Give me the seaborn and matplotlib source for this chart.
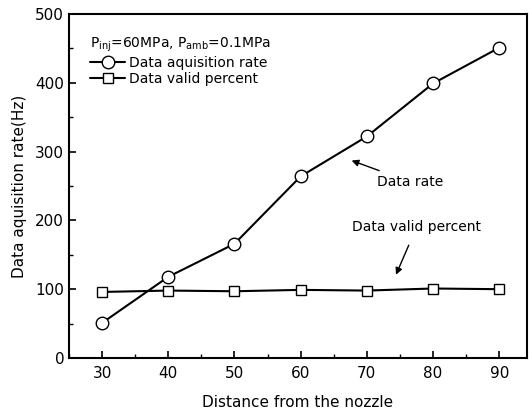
import matplotlib
matplotlib.use("Agg")
import matplotlib.pyplot as plt
import seaborn as sns
import pandas as pd
from matplotlib.ticker import MultipleLocator

distance = [30, 40, 50, 60, 70, 80, 90]
acq_rate = [51, 118, 166, 264, 322, 399, 451]
valid_pct = [96, 98, 97, 99, 98, 101, 100]

sns.set_theme(style="ticks")
plt.rcParams['font.family'] = ['DejaVu Sans']
plt.rcParams['mathtext.fontset'] = 'dejavusans'
for k in ['text.color', 'axes.labelcolor', 'xtick.color', 'ytick.color', 'axes.edgecolor']:
    plt.rcParams[k] = 'black'

fig = plt.figure(figsize=(5.31, 4.19), dpi=100)
ax = fig.add_axes([0.130, 0.1456, 0.8625, 0.821])

df = pd.DataFrame({"d": distance, "rate": acq_rate, "valid": valid_pct})
sns.lineplot(data=df, x="d", y="rate", ax=ax, color="black", lw=1.5,
             marker="o", markersize=9, markerfacecolor="white",
             markeredgecolor="black", markeredgewidth=1.0,
             label="Data aquisition rate")
sns.lineplot(data=df, x="d", y="valid", ax=ax, color="black", lw=1.5,
             marker="s", markersize=7.5, markerfacecolor="white",
             markeredgecolor="black", markeredgewidth=1.0,
             label="Data valid percent")

ax.set_xlim(25, 94.2)
ax.set_ylim(0, 500)
ax.xaxis.set_major_locator(MultipleLocator(10))
ax.xaxis.set_minor_locator(MultipleLocator(5))
ax.yaxis.set_major_locator(MultipleLocator(100))
ax.yaxis.set_minor_locator(MultipleLocator(50))
ax.tick_params(which="major", direction="in", length=5, width=1.2, labelsize=11, colors="black")
ax.tick_params(which="minor", direction="in", length=3, width=1.0, colors="black")
ax.tick_params(axis="x", pad=6)
for s in ax.spines.values():
    s.set_linewidth(1.5)
    s.set_color("black")

ax.set_xlabel("Distance from the nozzle", fontsize=11, labelpad=10, color="black")
ax.set_ylabel("Data aquisition rate(Hz)", fontsize=11, labelpad=6, color="black")

leg = ax.legend(loc="upper left", frameon=False, fontsize=10,
                title=r"P$_{\rm inj}$=60MPa, P$_{\rm amb}$=0.1MPa",
                title_fontsize=10, handlelength=2.5, handletextpad=0.3,
                labelspacing=0.15, borderaxespad=0.3, bbox_to_anchor=(0.025, 0.965))
leg._legend_box.align = "left"
leg.get_title().set_color("black")
for t in leg.get_texts():
    t.set_color("black")

ax.annotate("Data rate", xy=(67.7, 287), xytext=(71.5, 256),
            fontsize=10, va="center", ha="left", color="black",
            arrowprops=dict(arrowstyle="-|>", color="black", lw=1.0,
                            shrinkA=2, shrinkB=0, mutation_scale=10))
ax.annotate("Data valid percent", xy=(74.4, 121), xytext=(77.5, 190),
            fontsize=10, va="center", ha="center", color="black",
            arrowprops=dict(arrowstyle="-|>", color="black", lw=1.0,
                            shrinkA=6, shrinkB=0, mutation_scale=10))

fig.savefig("out.png", dpi=100)
